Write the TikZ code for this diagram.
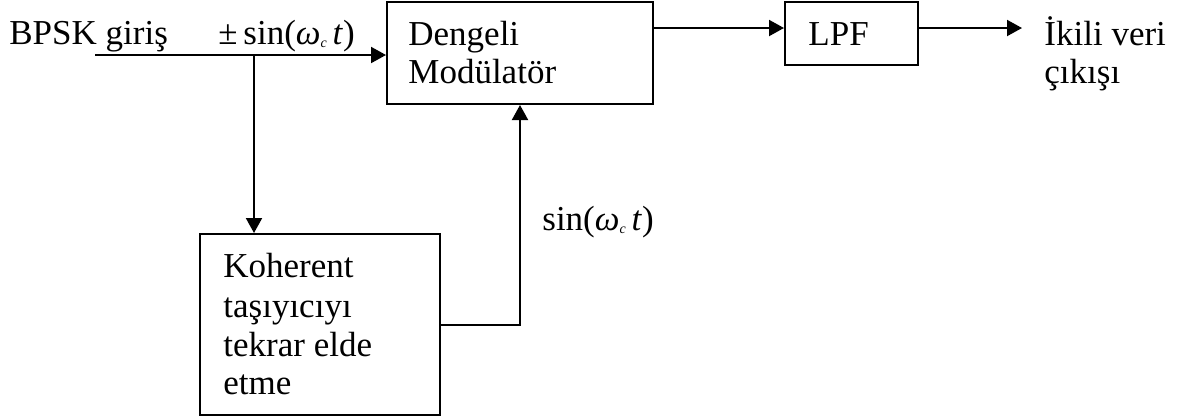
\documentclass[tikz,border=0pt]{standalone}
\usepackage{fontspec}
\setmainfont{Liberation Serif}
\usetikzlibrary{arrows.meta}
\begin{document}
\begin{tikzpicture}[x=0.5pt,y=-0.5pt,
  blk/.style={draw,line width=1pt,rectangle,inner sep=0pt},
  txt/.style={anchor=base west,inner sep=0pt,font=\fontsize{17.5}{20}\selectfont},
  conn/.style={line width=1pt,-{Triangle[length=7.5pt,width=8pt]}},
  wire/.style={line width=1pt}]
\useasboundingbox (0,0) rectangle (1179,419);
% blocks
\node[blk,minimum width=133pt,minimum height=51pt] (dm) at (520,53) {};
\node[blk,minimum width=66.5pt,minimum height=31.5pt] (lpf) at (851.5,33.5) {};
\node[blk,minimum width=120pt,minimum height=90.5pt] (kc) at (320,324.5) {};
% texts
\node[txt] (t1) at (9,44) {BPSK giriş};
\node[txt] (t2) at (218,44) {±\,sin(\textit{ω}\raisebox{-0.2ex}{\fontsize{7}{8}\selectfont\textit{c}}\,\textit{t})};
\node[txt] (t3) at (408,45) {Dengeli};
\node[txt] (t4) at (408,83) {Modülatör};
\node[txt] (t5) at (808,45) {LPF};
\node[txt] (t6) at (1044,45) {İkili veri};
\node[txt] (t7) at (1044,83) {çıkışı};
\node[txt] (t8) at (223,277) {Koherent};
\node[txt] (t9) at (223,317) {taşıyıcıyı};
\node[txt] (t10) at (223,356) {tekrar elde};
\node[txt] (t11) at (223,394) {etme};
\node[txt] (t12) at (542,230) {sin(\textit{ω}\raisebox{-0.2ex}{\fontsize{7}{8}\selectfont\textit{c}}\,\textit{t})};
% coordinates
\coordinate (in) at (95,55);
\coordinate (j) at (254,55);
\coordinate (o) at (0,28);
\coordinate (out) at (1022,28);
% connectors
\draw[conn] (in) -- (dm.west |- in);
\draw[conn] (j) -- (j |- kc.north);
\draw[conn] (kc.east) -| (dm.south);
\draw[conn] (dm.east |- o) -- (lpf.west |- o);
\draw[conn] (lpf.east |- o) -- (out);
\end{tikzpicture}
\end{document}
